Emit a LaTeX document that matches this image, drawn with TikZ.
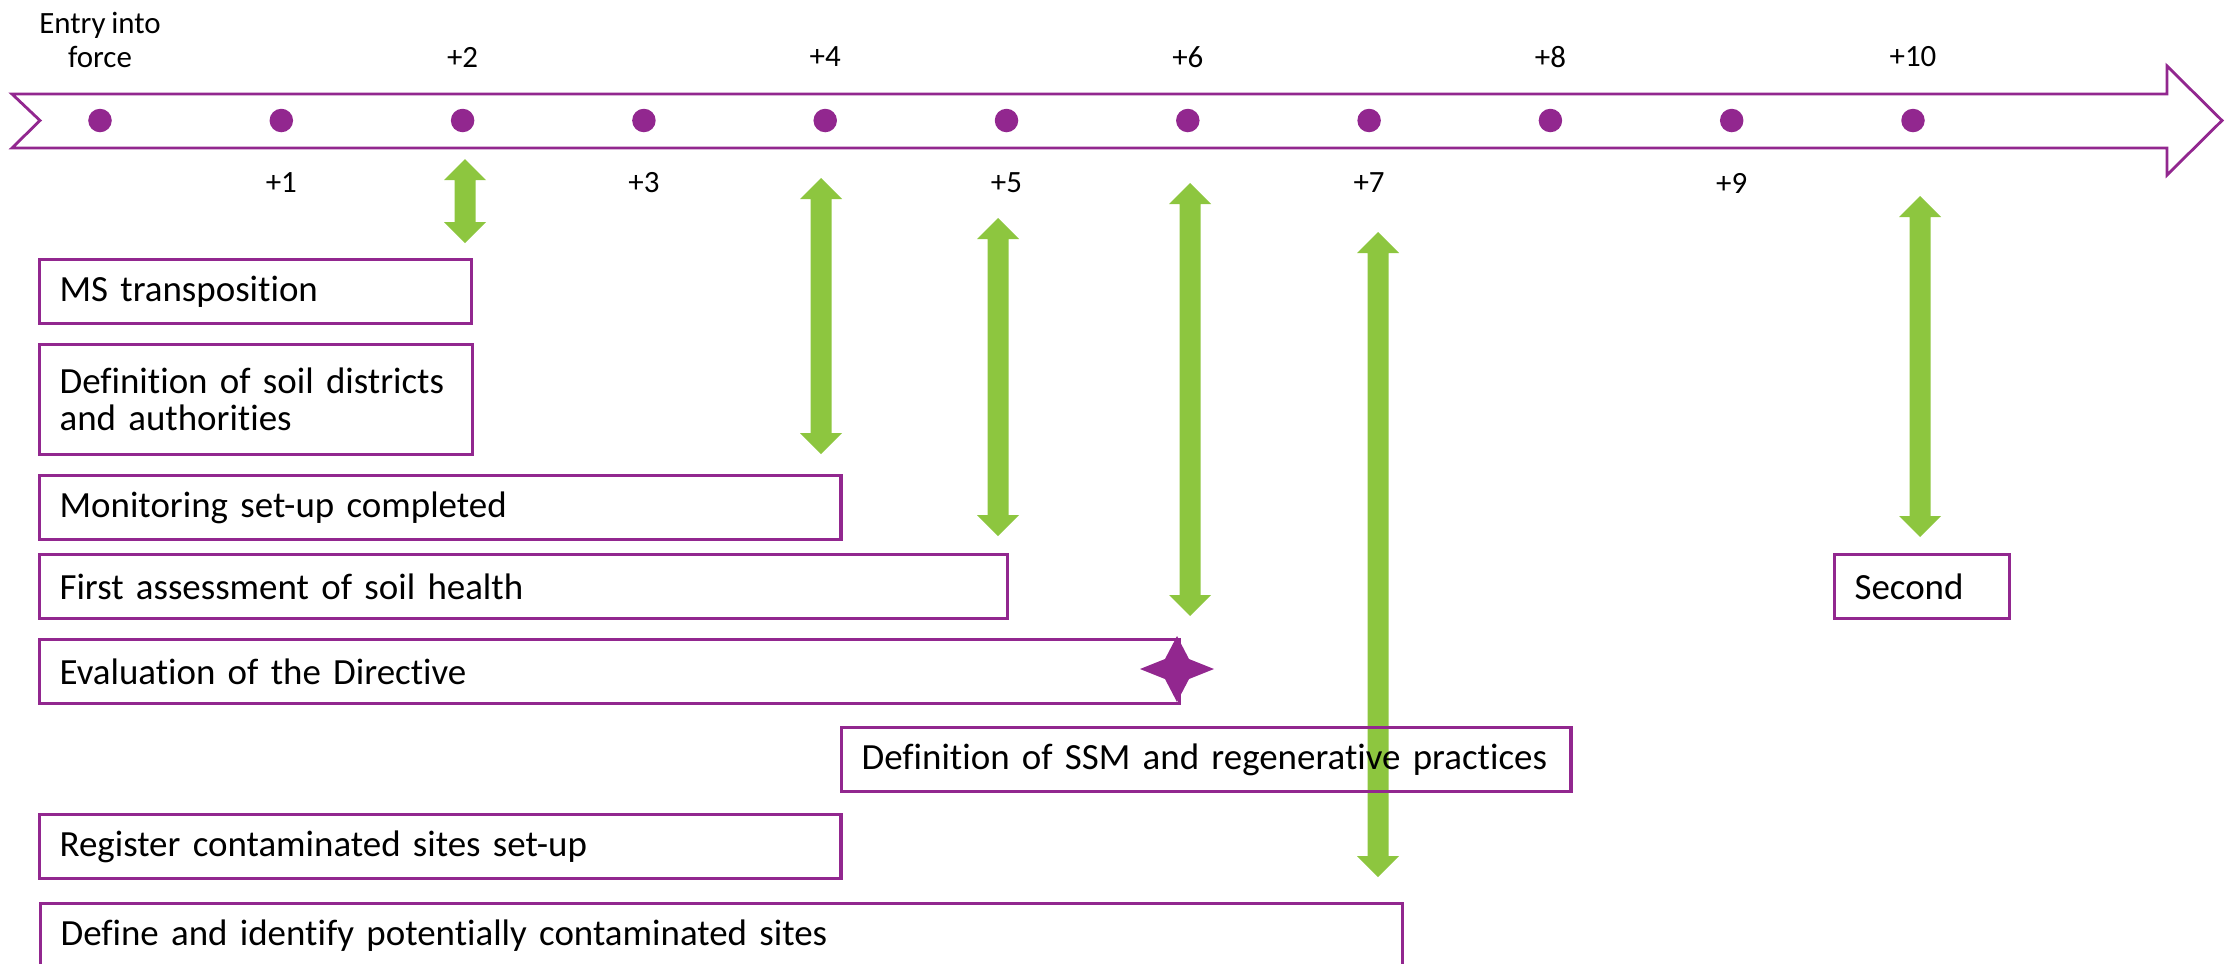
\documentclass[tikz,border=0pt]{standalone}
\usepackage{fontspec}
\setmainfont{Carlito}[Ligatures={NoCommon}, WordSpace={0.8}]
\definecolor{purp}{RGB}{146,39,143}
\definecolor{grn}{RGB}{141,198,63}
\tikzset{
  tbox/.style={draw=purp, line width=0.9pt, anchor=north west, inner xsep=0.2cm, inner ysep=0pt,
    align=left, minimum height=0.64cm, font=\fontsize{10.5}{10.6}\selectfont},
  tlabel/.style={font=\fontsize{8.8}{9.6}\selectfont, inner sep=0pt},
  tdot/.style={circle, fill=purp, minimum size=0.235cm, inner sep=0pt},
}
\begin{document}
\begin{tikzpicture}[x=0.01cm, y=-0.01cm]
\useasboundingbox (0,0) rectangle (2233,963);
\clip (0,0) rectangle (2233,963);
% timeline arrow
\draw[purp, line width=0.8pt, line join=miter]
  (12,94) -- (2167,94) -- (2167,66) -- (2222,120.5) -- (2167,175) -- (2167,148) -- (12,148) -- (40,120.5) -- cycle;
% dots and labels
\foreach \i in {0,...,10} {
  \node[tdot] (d\i) at ({100+181.3*\i},120.5) {};
}
\node[tlabel, align=center] (lentry) at (100,40) {Entry into\\force};
\foreach \i in {2,4,6,8,10} {
  \node[tlabel] (l\i) at ({100+181.3*\i},57) {+\i};
}
\foreach \i in {1,3,5,7,9} {
  \node[tlabel] (l\i) at ({100+181.3*\i},183) {+\i};
}
% green double arrows
\foreach \x/\a/\b in {465/159/243, 821/178/454, 998/218/536, 1190/183/616, 1378/232/877, 1920/196/537} {
  \fill[grn] (\x-10.5,\a+21) -- (\x-21,\a+21) -- (\x,\a) -- (\x+21,\a+21) -- (\x+10.5,\a+21)
    -- (\x+10.5,\b-21) -- (\x+21,\b-21) -- (\x,\b) -- (\x-21,\b-21) -- (\x-10.5,\b-21) -- cycle;
}
% boxes
\node[tbox, text width=3.92cm] (b1) at (38,258) {MS transposition};
\node[tbox, text width=3.93cm, minimum height=1.10cm] (b2) at (38,343) {Definition of soil districts\\and authorities};
\node[tbox, text width=7.61cm] (b3) at (38,474) {Monitoring set-up completed};
\node[tbox, text width=9.27cm] (b4) at (38,553) {First assessment of soil health};
\node[tbox, text width=10.99cm] (b5) at (38,638) {Evaluation of the Directive};
\node[tbox, text width=6.89cm] (b6) at (840,726) {Definition of SSM and regenerative practices};
\node[tbox, text width=7.61cm] (b7) at (38,813) {Register contaminated sites set-up};
\node[tbox, text width=13.21cm] (b8) at (39,902) {Define and identify potentially contaminated sites};
\node[tbox, text width=1.35cm] (b9) at (1833,553) {Second};
% star
\fill[purp] (1140,669) -- (1165,659) -- (1177,636) -- (1189,659) -- (1214,669) -- (1189,679) -- (1177,702) -- (1165,679) -- cycle;
\end{tikzpicture}
\end{document}
